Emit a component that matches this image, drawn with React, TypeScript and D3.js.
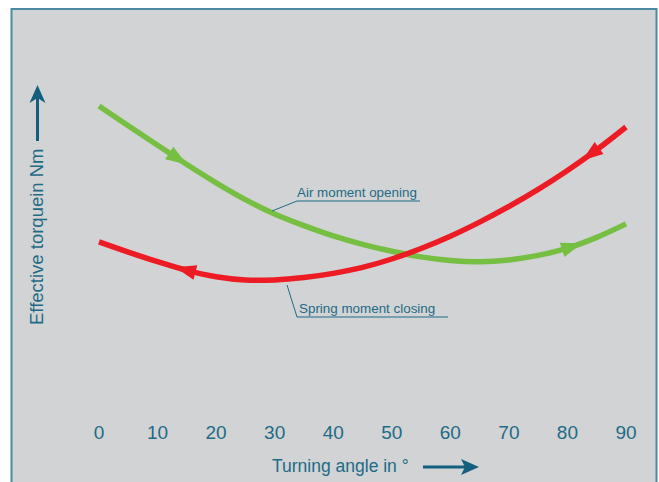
import React, { useEffect, useRef } from 'react';
import * as d3 from 'd3';

// Turning angle in degrees
const angles = [0, 5, 10, 15, 20, 25, 30, 35, 40, 45, 50, 55, 60, 65, 70, 75, 80, 85, 90];
// Air moment opening (green)
const airOpening = [98, 91.4, 84.9, 78.5, 72.4, 66.8, 62.0, 58.1, 54.7, 51.9, 49.6, 47.7, 46.5, 46.1, 46.7, 48.2, 50.6, 54.2, 58.7];
// Spring moment closing (red)
const springClosing = [52.7, 49.3, 46.1, 43.2, 41.1, 40.0, 40.0, 40.8, 42.2, 44.2, 47.0, 50.5, 54.6, 59.3, 64.5, 70.2, 76.5, 83.4, 91.0];
const xTicks = [0, 10, 20, 30, 40, 50, 60, 70, 80, 90];

const W = 659;
const H = 482;
const TEXT = '#1f6b87';
const ARROW = '#135f7d';

const App: React.FC = () => {
  const svgRef = useRef<SVGSVGElement>(null);

  useEffect(() => {
    if (!svgRef.current) return;
    const svg = d3.select(svgRef.current);
    svg.selectAll('*').remove();

    const x = d3.scaleLinear().domain([0, 90]).range([99, 626]);
    const y = d3.scaleLinear().domain([0, 100]).range([400, 100]);

    // background panel
    svg.append('rect').attr('width', W).attr('height', H).attr('fill', '#fff');
    svg.append('rect')
      .attr('x', 11.5).attr('y', 9).attr('width', 645).attr('height', H + 20)
      .attr('fill', '#d1d3d4').attr('stroke', '#4a8aa2').attr('stroke-width', 2);

    const line = d3.line<number>()
      .x((_, i) => x(angles[i]))
      .y(d => y(d))
      .curve(d3.curveCatmullRom.alpha(0.5));

    const series = [
      { values: airOpening, color: '#76bf43', arrows: [{ at: 15, dir: 1 }, { at: 82.5, dir: 1 }] },
      { values: springClosing, color: '#ed1c24', arrows: [{ at: 13, dir: -1 }, { at: 82.5, dir: -1 }] },
    ];

    series.forEach(s => {
      const path = svg.append('path')
        .attr('d', line(s.values))
        .attr('fill', 'none')
        .attr('stroke', s.color)
        .attr('stroke-width', 5.5);

      const node = path.node() as SVGPathElement;
      const total = node.getTotalLength();
      // find length along the path where x reaches a given pixel
      const lengthAt = (px: number) => {
        let lo = 0, hi = total;
        for (let k = 0; k < 30; k++) {
          const mid = (lo + hi) / 2;
          if (node.getPointAtLength(mid).x < px) lo = mid; else hi = mid;
        }
        return lo;
      };

      s.arrows.forEach(a => {
        const l = lengthAt(x(a.at));
        const tip = node.getPointAtLength(l);
        const back = node.getPointAtLength(Math.max(0, Math.min(total, l - a.dir * 21)));
        const dx = tip.x - back.x;
        const dy = tip.y - back.y;
        const len = Math.hypot(dx, dy) || 1;
        const nx = -dy / len, ny = dx / len;
        const hw = 7.5;
        svg.append('path')
          .attr('d', `M${tip.x},${tip.y}L${back.x + nx * hw},${back.y + ny * hw}L${back.x - nx * hw},${back.y - ny * hw}Z`)
          .attr('fill', s.color);
      });
    });

    // annotations
    const notes = [
      { text: 'Air moment opening', tx: 297, ty: 197, ux1: 297, ux2: 420, uy: 201, lx: 272, ly: 211 },
      { text: 'Spring moment closing', tx: 299, ty: 313, ux1: 297, ux2: 448, uy: 317, lx: 287, ly: 285 },
    ];
    notes.forEach(n => {
      svg.append('text')
        .attr('x', n.tx).attr('y', n.ty)
        .attr('fill', TEXT)
        .attr('font-family', 'Liberation Sans, Arial, sans-serif')
        .attr('font-size', 13.4)
        .text(n.text);
      svg.append('path')
        .attr('d', `M${n.lx},${n.ly}L${n.ux1},${n.uy}L${n.ux2},${n.uy}`)
        .attr('fill', 'none')
        .attr('stroke', TEXT)
        .attr('stroke-width', 1);
    });

    // x tick labels
    svg.append('g')
      .selectAll('text')
      .data(xTicks)
      .join('text')
      .attr('x', d => x(d))
      .attr('y', 439)
      .attr('text-anchor', 'middle')
      .attr('fill', TEXT)
      .attr('font-family', 'Liberation Sans, Arial, sans-serif')
      .attr('font-size', 19)
      .text(d => d);

    // x title + arrow
    svg.append('text')
      .attr('x', 272).attr('y', 472)
      .attr('fill', TEXT)
      .attr('font-family', 'Liberation Sans, Arial, sans-serif')
      .attr('font-size', 17.5)
      .text('Turning angle in °');
    svg.append('line')
      .attr('x1', 423).attr('x2', 468).attr('y1', 467).attr('y2', 467)
      .attr('stroke', ARROW).attr('stroke-width', 3);
    svg.append('path')
      .attr('d', 'M479,467L461,459L465,467L461,475Z')
      .attr('fill', ARROW);

    // y title + arrow
    svg.append('text')
      .attr('transform', 'translate(43,325) rotate(-90)')
      .attr('fill', TEXT)
      .attr('font-family', 'Liberation Sans, Arial, sans-serif')
      .attr('font-size', 18.5)
      .text('Effective torquein Nm');
    svg.append('line')
      .attr('x1', 37.5).attr('x2', 37.5).attr('y1', 141).attr('y2', 95)
      .attr('stroke', ARROW).attr('stroke-width', 3);
    svg.append('path')
      .attr('d', 'M37.5,85L45.5,103L37.5,98L29.5,103Z')
      .attr('fill', ARROW);
  }, []);

  return (
    <svg
      ref={svgRef}
      width={W}
      height={H}
      style={{ position: 'absolute', left: 0, top: 0, display: 'block' }}
    />
  );
};

export default App;
